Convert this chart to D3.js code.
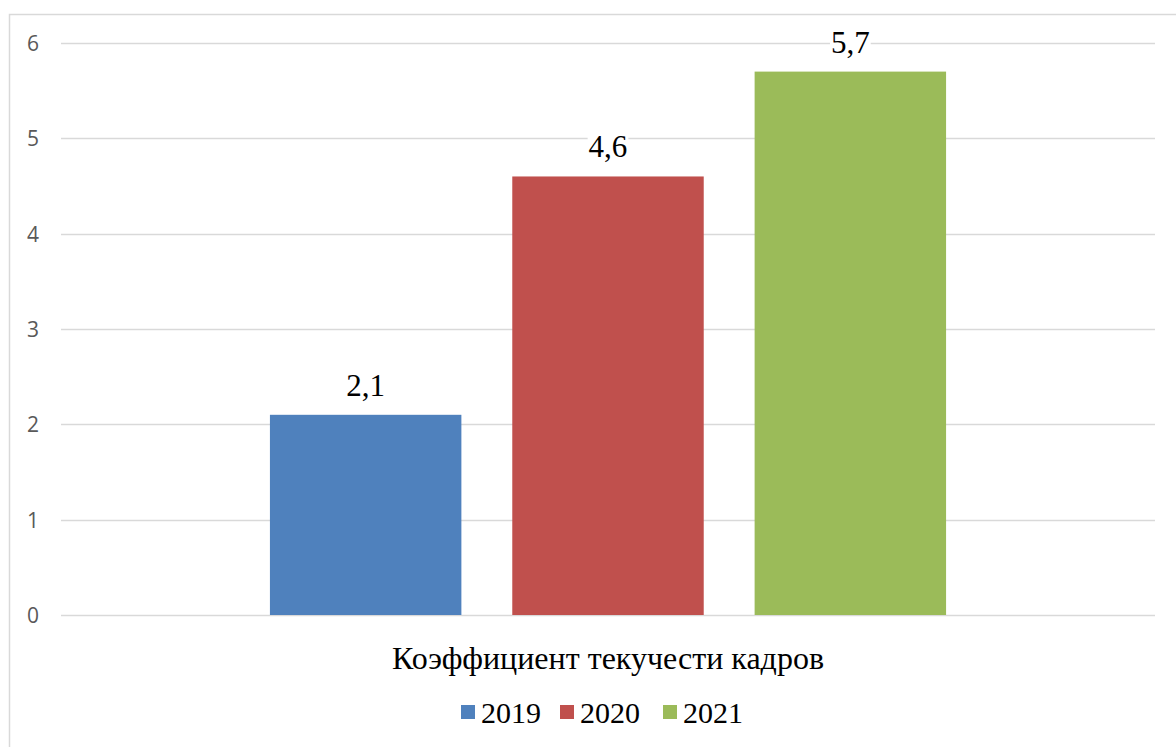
<!DOCTYPE html>
<html><head><meta charset="utf-8">
<script src="https://cdn.jsdelivr.net/npm/d3@7"></script>
<style>
body{margin:0;background:#fff}
svg{display:block}
svg text.serif{font-family:"Liberation Serif","Times New Roman",serif;}
svg text.tick-lab{font-family:"Open Sans",sans-serif;}
</style>
</head><body><svg id="c" width="1176" height="747"></svg>
<script>
const categories = ["Коэффициент текучести кадров"];
const seriesNames = ["2019", "2020", "2021"];
const seriesValues = [2.1, 4.6, 5.7];
const seriesColors = ["#4f81bd", "#c0504d", "#9bbb59"];
const yTicks = [0, 1, 2, 3, 4, 5, 6];

const svg = d3.select("#c");
const plot = {left: 61, right: 1155, top: 43, bottom: 615};

svg.append("rect").attr("x", 9.5).attr("y", 14.5).attr("width", 1200).attr("height", 800)
  .attr("fill", "none").attr("stroke", "#d9d9d9").attr("stroke-width", 1.5);

const y = d3.scaleLinear().domain([0, 6]).range([plot.bottom, plot.top]);
const x0 = d3.scaleBand().domain(categories).range([plot.left, plot.right]).paddingInner(0).paddingOuter(0.309);
const x1 = d3.scaleBand().domain(seriesNames).range([0, x0.bandwidth()]).paddingInner(0.21).paddingOuter(0);

svg.append("g").selectAll("line").data(yTicks).join("line")
  .attr("x1", plot.left).attr("x2", plot.right)
  .attr("y1", d => Math.round(y(d)) + 0.5).attr("y2", d => Math.round(y(d)) + 0.5)
  .attr("stroke", "#d9d9d9").attr("stroke-width", 1.5);

const yAxis = d3.axisLeft(y).tickValues(yTicks).tickSize(0).tickPadding(0).tickFormat(d3.format("d"));
const ga = svg.append("g").attr("transform", `translate(39,0)`).call(yAxis);
ga.attr("font-family", null).attr("font-size", null);
ga.select(".domain").remove();
ga.selectAll("text").attr("class", "tick-lab").attr("font-family", "Open Sans").attr("font-size", 21)
  .attr("fill", "#595959").attr("dy", "0.35em");

const data = seriesNames.map((s, i) => ({s, v: seriesValues[i], c: seriesColors[i]}));
const g = svg.append("g").attr("transform", `translate(${x0(categories[0])},0)`);
g.selectAll("rect.bar").data(data).join("rect").attr("class", "bar")
  .attr("x", d => x1(d.s)).attr("width", x1.bandwidth())
  .attr("y", d => y(d.v)).attr("height", d => y(0) - y(d.v))
  .attr("fill", d => d.c);

const fmt = v => d3.format(".1f")(v).replace(".", ",");
const labels = g.selectAll("g.val").data(data).join("g").attr("class", "val");
labels.append("rect").attr("fill", "#fff");
labels.append("text").attr("class", "serif")
  .attr("x", d => x1(d.s) + x1.bandwidth() / 2).attr("y", d => y(d.v) - 19)
  .attr("text-anchor", "middle").attr("font-family", "Liberation Serif")
  .attr("font-size", 31).attr("fill", "#000").text(d => fmt(d.v));
labels.each(function() {
  const t = d3.select(this).select("text").node().getBBox();
  d3.select(this).select("rect").attr("x", t.x - 1).attr("y", t.y + 4).attr("width", t.width + 2).attr("height", t.height - 6);
});

svg.append("text").attr("class", "serif").attr("x", x0(categories[0]) + x0.bandwidth() / 2).attr("y", 669)
  .attr("text-anchor", "middle").attr("font-family", "Liberation Serif")
  .attr("font-size", 32).attr("fill", "#000").text(categories[0]);

const legX = [461, 560, 663];
const lg = svg.append("g");
data.forEach((d, i) => {
  lg.append("rect").attr("x", legX[i]).attr("y", 705).attr("width", 14).attr("height", 14).attr("fill", d.c);
  lg.append("text").attr("class", "serif").attr("x", legX[i] + 20).attr("y", 723)
    .attr("font-family", "Liberation Serif").attr("font-size", 30)
    .attr("fill", "#000").text(d.s);
});
</script></body></html>
